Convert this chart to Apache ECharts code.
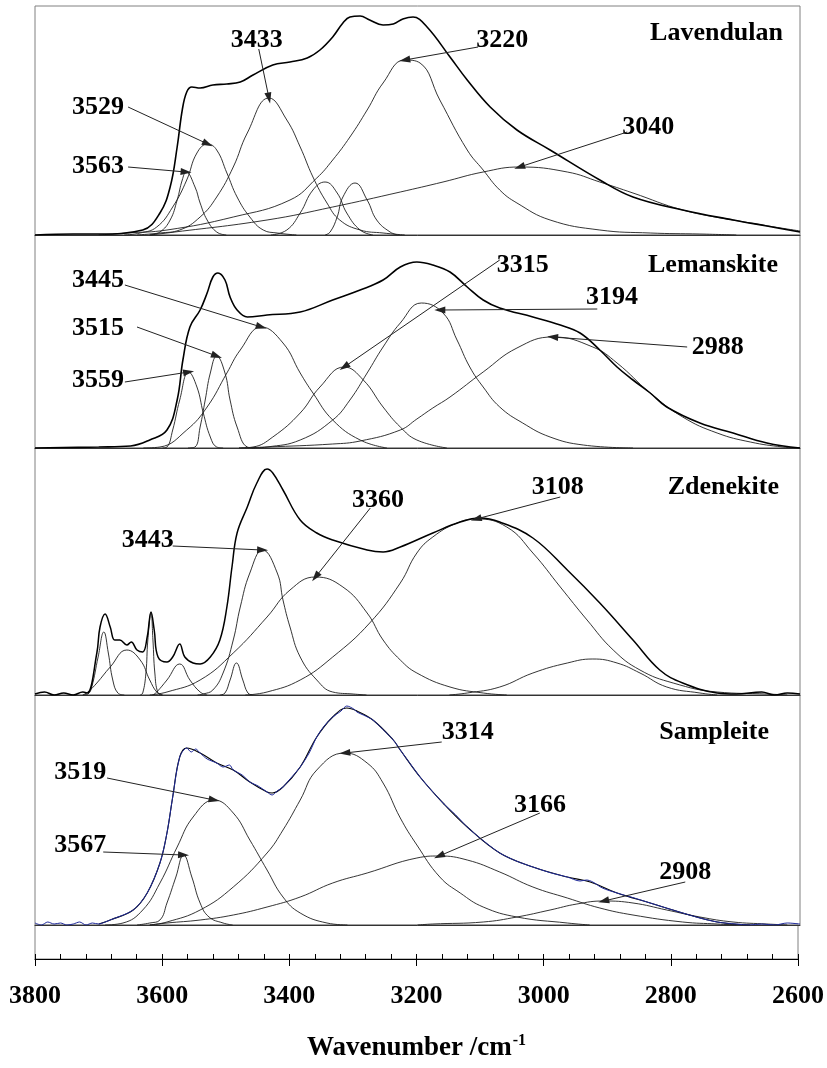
<!DOCTYPE html>
<html>
<head>
<meta charset="utf-8">
<script src="https://cdn.jsdelivr.net/npm/echarts/dist/echarts.min.js"></script>
<style>
  html, body { margin: 0; padding: 0; background: #fff; }
  #chart { width: 827px; height: 1068px; }
</style>
</head>
<body>
<div id="chart"></div>
<script>
// Band-component fits of the O-H stretching region for four minerals.
// Each curve is a list of [wavenumber (cm-1), intensity (a.u.)] pairs.

const wavenumberRange = [2600, 3800];
const tickStep = 200;
const panelNames = ['Lavendulan', 'Lemanskite', 'Zdenekite', 'Sampleite'];

// ---------- Lavendulan ----------
const lavendulanEnvelope = [[3800,0],[3740,1],[3700,1],[3631,5],[3604,22],[3588,48],[3577,88],[3569,125],[3562,143],[3554,148],[3541,147],[3521,150],[3499,151],[3478,153],[3458,160],[3427,170],[3400,173],[3373,177],[3353,185],[3333,198],[3317,212],[3306,218],[3290,219],[3275,215],[3254,210],[3238,211],[3223,216],[3207,218],[3185,208],[3149,178],[3122,155],[3086,128],[3044,105],[2992,85],[2914,55],[2862,38],[2784,25],[2705,15],[2652,9],[2600,3]];
const lavendulan3563 = [[3620,0],[3604,3],[3588,15],[3577,35],[3569,55],[3563,63],[3549,48],[3541,32],[3530,15],[3515,3],[3500,0]];
const lavendulan3529 = [[3660,0],[3635,2],[3609,8],[3584,28],[3562,55],[3546,82],[3529,91],[3515,85],[3499,62],[3483,38],[3463,18],[3442,5],[3420,2],[3390,0]];
const lavendulan3433 = [[3640,0],[3604,2],[3573,5],[3541,18],[3515,38],[3489,68],[3467,102],[3433,137],[3405,115],[3384,88],[3364,58],[3342,32],[3322,15],[3290,5],[3254,2],[3220,0]];
const lavendulan3345 = [[3430,0],[3405,5],[3384,22],[3364,45],[3345,53],[3326,42],[3311,22],[3290,5],[3270,0]];
const lavendulan3298 = [[3345,0],[3337,3],[3326,18],[3317,38],[3298,52],[3279,35],[3264,15],[3243,3],[3230,0]];
const lavendulan3220 = [[3700,0],[3656,2],[3593,5],[3489,18],[3400,35],[3358,57],[3333,75],[3306,98],[3279,125],[3254,152],[3220,175],[3196,172],[3165,135],[3122,85],[3097,65],[3071,45],[3044,32],[2992,15],[2914,5],[2835,2],[2757,1],[2700,0]];
const lavendulan3040 = [[3620,0],[3593,2],[3436,15],[3333,28],[3227,43],[3160,53],[3097,63],[3040,68],[2965,63],[2914,53],[2862,42],[2784,25],[2705,15],[2600,4]];

// ---------- Lemanskite ----------
const lemanskiteEnvelope = [[3800,0],[3700,1],[3650,2],[3620,8],[3593,18],[3577,48],[3568,88],[3557,121],[3541,138],[3530,155],[3521,171],[3513,175],[3502,168],[3494,151],[3483,138],[3467,131],[3436,133],[3384,136],[3333,148],[3290,158],[3254,168],[3227,181],[3201,186],[3176,183],[3149,176],[3122,161],[3097,148],[3071,140],[3019,131],[2976,123],[2945,115],[2914,98],[2887,81],[2862,68],[2835,55],[2809,41],[2757,25],[2705,15],[2652,5],[2600,0]];
const lemanskite3559 = [[3600,0],[3593,1],[3584,18],[3573,48],[3559,76],[3546,61],[3536,35],[3525,11],[3515,1],[3505,0]];
const lemanskite3515 = [[3560,0],[3549,1],[3541,21],[3533,48],[3525,75],[3515,92],[3502,75],[3494,48],[3483,21],[3467,1],[3455,0]];
const lemanskite3445 = [[3630,0],[3604,1],[3562,18],[3530,41],[3499,75],[3478,98],[3445,121],[3411,105],[3384,75],[3364,55],[3333,28],[3290,8],[3248,0]];
const lemanskite3315 = [[3480,0],[3458,1],[3427,11],[3384,35],[3353,61],[3315,81],[3285,68],[3254,41],[3227,21],[3201,8],[3154,0]];
const lemanskite3194 = [[3460,0],[3436,1],[3384,8],[3333,28],[3306,48],[3279,75],[3254,101],[3227,125],[3194,145],[3160,135],[3138,108],[3118,81],[3097,61],[3071,41],[3035,25],[2992,11],[2940,3],[2862,0]];
const lemanskite2988 = [[3480,0],[3436,1],[3333,4],[3290,7],[3227,18],[3201,29],[3176,40],[3149,51],[3097,76],[3044,100],[2988,111],[2925,101],[2887,85],[2835,55],[2784,31],[2730,15],[2678,6],[2627,1],[2600,0]];

// ---------- Zdenekite ----------
const zdenekiteEnvelope = [[3800,1],[3785,3],[3770,0],[3755,2],[3740,0],[3725,3],[3718,2],[3703,42],[3698,68],[3690,81],[3682,68],[3675,55],[3667,55],[3656,50],[3649,53],[3640,45],[3631,43],[3624,58],[3618,83],[3613,65],[3607,38],[3593,33],[3584,38],[3573,51],[3565,38],[3552,32],[3541,31],[3525,38],[3510,55],[3499,88],[3491,128],[3483,162],[3467,188],[3452,212],[3436,226],[3427,222],[3411,205],[3384,175],[3358,162],[3333,155],[3279,145],[3254,143],[3227,148],[3176,162],[3133,173],[3102,177],[3071,173],[3019,157],[2965,125],[2914,92],[2862,55],[2820,25],[2784,12],[2730,2],[2700,1],[2660,3],[2640,0],[2620,2],[2600,1]];
const zdenekite3692 = [[3725,0],[3717,1],[3711,8],[3701,38],[3692,63],[3685,42],[3678,15],[3670,2],[3660,0]];
const zdenekite3656 = [[3725,0],[3717,3],[3703,12],[3682,28],[3656,45],[3635,35],[3620,15],[3609,3],[3600,0]];
const zdenekite3618 = [[3635,0],[3631,2],[3626,22],[3623,55],[3618,82],[3615,55],[3612,22],[3607,2],[3600,0]];
const zdenekite3573 = [[3615,0],[3609,3],[3593,15],[3573,31],[3557,15],[3541,3],[3530,0]];
const zdenekite3484 = [[3510,0],[3502,2],[3494,15],[3484,32],[3474,15],[3466,2],[3458,0]];
const zdenekite3443 = [[3545,0],[3536,1],[3521,5],[3505,22],[3489,55],[3478,88],[3463,122],[3443,145],[3420,122],[3411,95],[3400,68],[3384,38],[3358,15],[3333,3],[3301,1],[3280,0]];
const zdenekite3360 = [[3620,0],[3593,3],[3541,15],[3489,42],[3436,78],[3400,105],[3360,118],[3317,108],[3279,82],[3254,55],[3227,35],[3201,22],[3149,8],[3097,2],[3060,0]];
const zdenekite3108 = [[3470,0],[3436,3],[3384,15],[3333,38],[3275,72],[3227,112],[3201,142],[3176,158],[3138,172],[3108,176],[3060,168],[3019,142],[2976,108],[2934,75],[2893,45],[2851,25],[2799,12],[2730,3],[2652,1],[2620,0]];
const zdenekite2925 = [[3150,0],[3122,2],[3071,8],[3019,22],[2965,32],[2925,36],[2887,32],[2851,22],[2809,8],[2757,2],[2730,0]];

// ---------- Sampleite ----------
const sampleiteMeasured = [[3800,2],[3790,0],[3780,3],[3770,1],[3760,2],[3750,0],[3740,1],[3730,3],[3720,0],[3710,2],[3700,1],[3690,3],[3682,5],[3646,15],[3624,32],[3604,62],[3593,92],[3584,128],[3573,168],[3562,177],[3555,173],[3548,176],[3541,172],[3530,166],[3515,162],[3505,158],[3495,160],[3489,155],[3475,150],[3463,143],[3450,139],[3436,133],[3428,130],[3420,134],[3411,138],[3400,146],[3384,158],[3370,172],[3358,188],[3345,200],[3333,208],[3320,214],[3311,219],[3300,216],[3295,213],[3285,210],[3270,205],[3255,196],[3238,185],[3227,175],[3210,160],[3196,148],[3180,136],[3160,122],[3140,110],[3122,98],[3100,86],[3071,72],[3045,64],[3019,58],[2990,52],[2965,48],[2945,44],[2935,45],[2925,43],[2910,37],[2887,32],[2860,27],[2835,22],[2810,17],[2784,12],[2757,7],[2730,3],[2700,1],[2680,0],[2660,1],[2640,0],[2620,2],[2600,1]];
const sampleiteEnvelope = [[3700,1],[3682,5],[3646,15],[3624,32],[3604,62],[3593,92],[3584,128],[3573,168],[3562,177],[3541,172],[3515,162],[3489,155],[3463,143],[3436,133],[3428,132],[3411,138],[3384,158],[3358,188],[3333,208],[3311,217],[3295,214],[3270,205],[3238,185],[3227,175],[3196,148],[3160,122],[3122,98],[3071,72],[3019,58],[2965,48],[2929,43],[2887,32],[2835,22],[2784,12],[2730,3],[2678,0]];
const sampleite3567 = [[3640,0],[3620,2],[3604,5],[3593,22],[3579,48],[3567,70],[3554,48],[3541,22],[3527,8],[3505,2],[3490,0]];
const sampleite3519 = [[3690,0],[3662,2],[3631,15],[3604,42],[3577,78],[3552,108],[3519,125],[3489,112],[3463,85],[3436,55],[3411,28],[3384,12],[3342,2],[3310,0]];
const sampleite3314 = [[3620,0],[3593,3],[3541,15],[3489,38],[3436,72],[3411,95],[3384,125],[3358,155],[3314,172],[3279,162],[3254,142],[3227,107],[3201,80],[3165,48],[3133,32],[3097,18],[3044,8],[2965,2],[2930,0]];
const sampleite3166 = [[3620,0],[3593,2],[3541,5],[3489,10],[3436,18],[3384,28],[3333,42],[3279,52],[3201,67],[3166,69],[3122,65],[3071,53],[3019,38],[2965,27],[2914,17],[2862,10],[2784,3],[2730,1],[2700,0]];
const sampleite2908 = [[3200,0],[3176,1],[3097,3],[3044,8],[2992,15],[2950,21],[2908,24],[2862,22],[2809,15],[2757,8],[2705,3],[2652,1],[2620,0]];

// Highest point of a band: where its arrow points.
function peakOf(band) {
  return band.reduce((best, p) => (p[1] > best[1] ? p : best), band[0]);
}

// Annotation layout: label anchor, arrow tail and arrow tip in axis units.
const lavendulanNotes = [
  { text: '3433', at: [3452, 195], from: [3449, 186], to: peakOf(lavendulan3433) },
  { text: '3529', at: [3701, 128], from: [3654, 128], to: peakOf(lavendulan3529) },
  { text: '3563', at: [3701, 69],  from: [3654, 68],  to: peakOf(lavendulan3563) },
  { text: '3220', at: [3067, 195], from: [3105, 188], to: peakOf(lavendulan3220) },
  { text: '3040', at: [2838, 108], from: [2871, 103], to: peakOf(lavendulan3040) }
];
const lemanskiteNotes = [
  { text: '3445', at: [3701, 168], from: [3659, 163], to: peakOf(lemanskite3445) },
  { text: '3515', at: [3701, 120], from: [3640, 121], to: peakOf(lemanskite3515) },
  { text: '3559', at: [3701, 68],  from: [3659, 66],  to: peakOf(lemanskite3559) },
  { text: '3315', at: [3035, 183], from: [3071, 188], to: peakOf(lemanskite3315) },
  { text: '3194', at: [2895, 151], from: [2918, 139], to: [3165, 138] },
  { text: '2988', at: [2729, 101], from: [2777, 101], to: peakOf(lemanskite2988) }
];
const zdenekiteNotes = [
  { text: '3443', at: [3623, 155], from: [3584, 149], to: peakOf(zdenekite3443) },
  { text: '3360', at: [3262, 195], from: [3274, 187], to: peakOf(zdenekite3360) },
  { text: '3108', at: [2980, 208], from: [2976, 198], to: peakOf(zdenekite3108) }
];
const sampleiteNotes = [
  { text: '3519', at: [3729, 153], from: [3687, 147], to: peakOf(sampleite3519) },
  { text: '3567', at: [3729, 80],  from: [3693, 73],  to: peakOf(sampleite3567) },
  { text: '3314', at: [3121, 193], from: [3162, 183], to: peakOf(sampleite3314) },
  { text: '3166', at: [3008, 120], from: [3008, 112], to: peakOf(sampleite3166) },
  { text: '2908', at: [2780, 53],  from: [2780, 43],  to: peakOf(sampleite2908) }
];

const panels = [
  { ymax: 229, envelope: lavendulanEnvelope, measured: null, envelopeWidth: 1.6,
    bands: [lavendulan3563, lavendulan3529, lavendulan3433, lavendulan3345, lavendulan3298, lavendulan3220, lavendulan3040],
    notes: lavendulanNotes },
  { ymax: 213, envelope: lemanskiteEnvelope, measured: null, envelopeWidth: 1.6,
    bands: [lemanskite3559, lemanskite3515, lemanskite3445, lemanskite3315, lemanskite3194, lemanskite2988],
    notes: lemanskiteNotes },
  { ymax: 247, envelope: zdenekiteEnvelope, measured: null, envelopeWidth: 1.5,
    bands: [zdenekite3692, zdenekite3656, zdenekite3618, zdenekite3573, zdenekite3484, zdenekite3443, zdenekite3360, zdenekite3108, zdenekite2925],
    notes: zdenekiteNotes },
  { ymax: 230, envelope: sampleiteEnvelope, measured: sampleiteMeasured, envelopeWidth: 1.1,
    bands: [sampleite3567, sampleite3519, sampleite3314, sampleite3166, sampleite2908],
    notes: sampleiteNotes }
];

// Page layout (pixels)
const plotLeft = 35, plotRight = 27;
const panelTops = [6, 235, 448, 695];
const panelHeights = [229, 213, 247, 230];
const axisStripTop = 925, axisStripHeight = 34;
const nameRight = [44, 49, 48, 58];
const nameTop = [20, 252, 474, 719];

const serif = 'Liberation Serif, Times New Roman, serif';
const boldText = { fontFamily: serif, fontWeight: 'bold', fontSize: 26, color: '#000',
                   textBorderWidth: 0, textBorderColor: 'transparent', opacity: 1 };

const grid = [], xAxis = [], yAxis = [], series = [];

panels.forEach((p, i) => {
  grid.push({ left: plotLeft, right: plotRight, top: panelTops[i], height: panelHeights[i],
              show: true, borderColor: '#808080', borderWidth: 1, backgroundColor: 'transparent' });
  xAxis.push({ gridIndex: i, type: 'value', min: wavenumberRange[0], max: wavenumberRange[1], inverse: true,
               axisLine: { show: true, onZero: false, lineStyle: { color: '#333', width: 1 } },
               axisTick: { show: false }, axisLabel: { show: false }, splitLine: { show: false } });
  yAxis.push({ gridIndex: i, type: 'value', min: 0, max: p.ymax, show: false, splitLine: { show: false } });

  p.bands.forEach(b => series.push({
    type: 'line', xAxisIndex: i, yAxisIndex: i, data: b,
    smooth: 0.45, showSymbol: false, silent: true,
    lineStyle: { color: '#1e1e1e', width: 0.9 }
  }));
  series.push({
    type: 'line', xAxisIndex: i, yAxisIndex: i, data: p.envelope,
    smooth: 0.4, showSymbol: false, silent: true,
    lineStyle: { color: '#000', width: p.envelopeWidth }
  });
  if (p.measured) {
    // measured trace drawn over the fitted sum
    series.push({
      type: 'line', xAxisIndex: i, yAxisIndex: i, data: p.measured,
      smooth: 0.3, showSymbol: false, silent: true,
      lineStyle: { color: '#1f2a9a', width: 1 }
    });
  }
  series.push({
    type: 'scatter', xAxisIndex: i, yAxisIndex: i, silent: true,
    symbolSize: 1, itemStyle: { color: 'rgba(255,255,255,0)' },
    data: p.notes.map(n => ({ name: n.text, value: n.at })),
    label: Object.assign({ show: true, position: 'inside', formatter: '{b}' }, boldText),
    markLine: {
      silent: true, animation: false,
      symbol: ['none', 'triangle'], symbolSize: [7, 11],
      lineStyle: { color: '#222', width: 1, type: 'solid' },
      label: { show: false },
      data: p.notes.map(n => [{ coord: n.from }, { coord: n.to }])
    }
  });
});

// Bottom strip that carries the wavenumber axis
grid.push({ left: plotLeft, right: plotRight, top: axisStripTop, height: axisStripHeight,
            show: true, borderColor: '#808080', borderWidth: 1 });
xAxis.push({
  gridIndex: 4, type: 'value', position: 'bottom',
  min: wavenumberRange[0], max: wavenumberRange[1], interval: tickStep, inverse: true,
  axisLine: { show: true, onZero: false, lineStyle: { color: '#000', width: 1.2 } },
  axisTick: { show: true, inside: true, length: 5, lineStyle: { color: '#000' } },
  minorTick: { show: true, splitNumber: 5, length: 5, lineStyle: { color: '#000' } },
  splitLine: { show: false },
  axisLabel: Object.assign({ margin: 24, formatter: v => String(v) }, boldText),
  name: '{t|Wavenumber /cm}{s|-1}', nameLocation: 'middle', nameGap: 74,
  nameTextStyle: {
    rich: {
      t: { fontFamily: serif, fontWeight: 'bold', fontSize: 27, color: '#000' },
      s: { fontFamily: serif, fontWeight: 'bold', fontSize: 16, color: '#000', verticalAlign: 'top', padding: [0, 0, 14, 1] }
    }
  }
});
xAxis.push({
  gridIndex: 4, type: 'value', position: 'bottom',
  min: wavenumberRange[0], max: wavenumberRange[1], interval: tickStep, inverse: true,
  axisLine: { show: false, onZero: false },
  axisTick: { show: true, inside: false, length: 7, lineStyle: { color: '#000' } },
  axisLabel: { show: false }, splitLine: { show: false }
});
yAxis.push({ gridIndex: 4, type: 'value', min: 0, max: 1, show: false });

const title = panelNames.map((t, i) => ({
  text: t, right: nameRight[i], top: nameTop[i], padding: 0,
  textStyle: { fontFamily: serif, fontWeight: 'bold', fontSize: 26, color: '#000' }
}));

const chart = echarts.init(document.getElementById('chart'), null, { renderer: 'canvas' });
chart.setOption({
  animation: false,
  backgroundColor: '#fff',
  title: title,
  grid: grid,
  xAxis: xAxis,
  yAxis: yAxis,
  series: series
});
</script>
</body>
</html>
